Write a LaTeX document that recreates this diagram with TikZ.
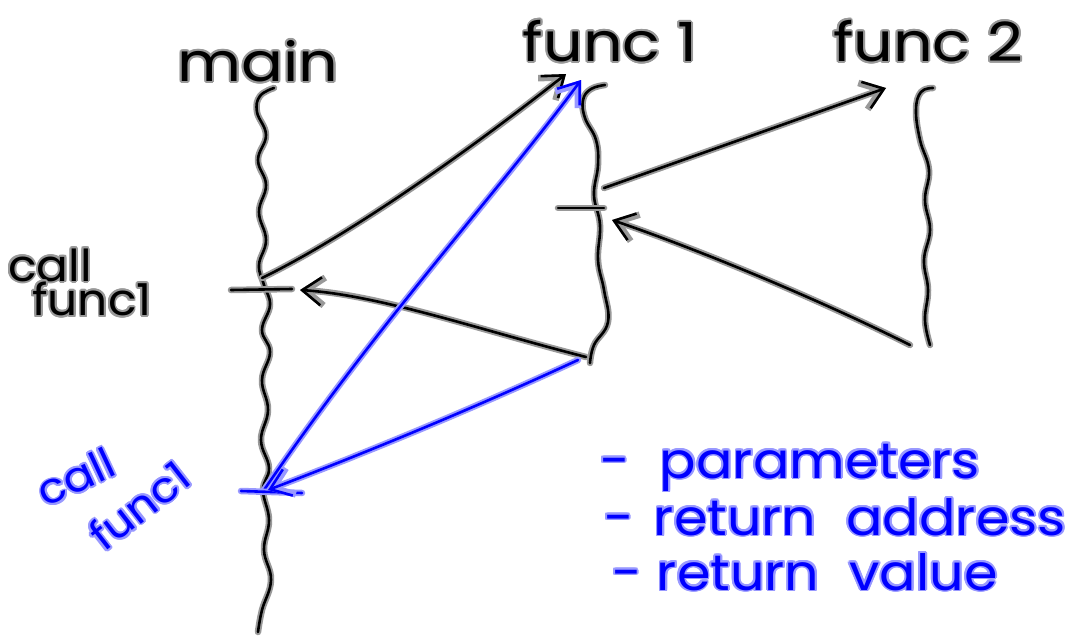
\documentclass[tikz,border=0pt]{standalone}
\usepackage{fontspec}
\usepackage{contour}
\setmainfont{Poppins}
\newfontfamily\handT{Poppins}[FakeStretch=1.15]
\newfontfamily\handL{Poppins}[FakeStretch=1.08]
\newfontfamily\handC{Poppins}[FakeStretch=1.07]
\contourlength{1.9pt}
\contournumber{16}
\usetikzlibrary{arrows.meta}
\begin{document}
\begin{tikzpicture}[x=1pt,y=-1pt,
  ink/.style={line width=2.6, draw=black, line cap=round, line join=round,
    preaction={draw=black!40, line width=6.5, line cap=round, line join=round}},
  bink/.style={line width=2.6, draw=blue, line cap=round, line join=round,
    preaction={draw=blue!40, line width=6.5, line cap=round, line join=round}},
  head/.style={-{Straight Barb[length=19,width=28]}},
  lbl/.style={font=\handT\fontsize{54}{58}\selectfont, inner sep=0, text=black},
  clbl/.style={font=\handC\fontsize{44}{48}\selectfont, inner sep=0, text=black},
  bclbl/.style={font=\handC\fontsize{42}{46}\selectfont, inner sep=0, text=blue},
  blbl/.style={font=\handL\fontsize{50}{54}\selectfont, inner sep=0, text=blue},
  ]
\useasboundingbox (0,0) rectangle (1072,637);
\fill[white] (0,0) rectangle (1072,637);

% titles
\node[lbl] (main) at (258,62) {\contour{black!40}{main}};
\node[lbl] (func1) at (610,42) {\contour{black!40}{func 1}};
\node[lbl] (func2) at (928,42) {\contour{black!40}{func 2}};
\node[clbl] (callA) at (50,266) {\contour{black!40}{call}};
\node[clbl] (callB) at (92,300) {\contour{black!40}{func1}};
\node[bclbl] (bcallA) at (76,478) {\rotatebox{25}{\contour{blue!40}{call}}};
\node[bclbl] (bcallB) at (140,506) {\rotatebox{38}{\contour{blue!40}{func1}}};

% lifelines
\draw[ink] plot[smooth, tension=0.7] coordinates {(274,88) (260,96) (257,112) (266,135) (258,160) (266,185) (259,212) (266,240) (259,265) (264,285) (270,305) (262,330) (270,352) (262,380) (268,410) (261,440) (269,468) (263,490) (269,520) (264,550) (271,580) (262,610) (258,632)};
\draw[ink] plot[smooth, tension=0.7] coordinates {(605,85) (591,89) (583,100) (585,118) (596,140) (598,165) (594,195) (600,225) (598,260) (604,290) (608,322) (594,345) (590,363)};
\draw[ink] plot[smooth, tension=0.7] coordinates {(933,88) (921,92) (916,110) (920,140) (929,170) (925,200) (930,230) (924,260) (928,290) (925,320) (930,345)};

% coordinates
\coordinate (mcall) at (262,278);
\coordinate (f1top) at (566,74);
\coordinate (mtickL) at (231,290);
\coordinate (mtickR) at (292,289);
\coordinate (mret) at (300,290);
\coordinate (f1bot) at (586,357);
\coordinate (f1out) at (604,188);
\coordinate (f2top) at (886,88);
\coordinate (ftickL) at (558,208);
\coordinate (ftickR) at (604,208);
\coordinate (f1ret) at (612,220);
\coordinate (f2bot) at (910,345);
\coordinate (bcall) at (264,490);
\coordinate (bf1top) at (581,80);
\coordinate (bf1bot) at (578,360);
\coordinate (bret) at (268,490);
\coordinate (btickL) at (241,491);
\coordinate (btickR) at (302,493);

% black connectors
\draw[ink, head] (mcall) .. controls (350,235) and (470,150) .. (f1top);
\draw[ink] (mtickL) -- (mtickR);
\draw[ink, head] (f1bot) .. controls (480,330) and (380,295) .. (mret);
\draw[ink, head] (f1out) -- (f2top);
\draw[ink] (ftickL) -- (ftickR);
\draw[ink, head] (f2bot) .. controls (820,300) and (700,250) .. (f1ret);

% blue connectors
\draw[bink, head] (bcall) .. controls (380,320) and (500,190) .. (bf1top);
\draw[bink] (btickL) -- (btickR);
\draw[bink, head] (bf1bot) .. controls (470,410) and (360,455) .. (bret);

% list
\node[blbl, anchor=base west] (p1) at (600,478) {\contour{blue!40}{-\hspace{0.6em}parameters}};
\node[blbl, anchor=base west] (p2) at (604,535) {\contour{blue!40}{-\hspace{0.4em}return\hspace{0.6em}address}};
\node[blbl, anchor=base west] (p3) at (612,590) {\contour{blue!40}{-\hspace{0.3em}return\hspace{0.6em}value}};
\end{tikzpicture}
\end{document}
